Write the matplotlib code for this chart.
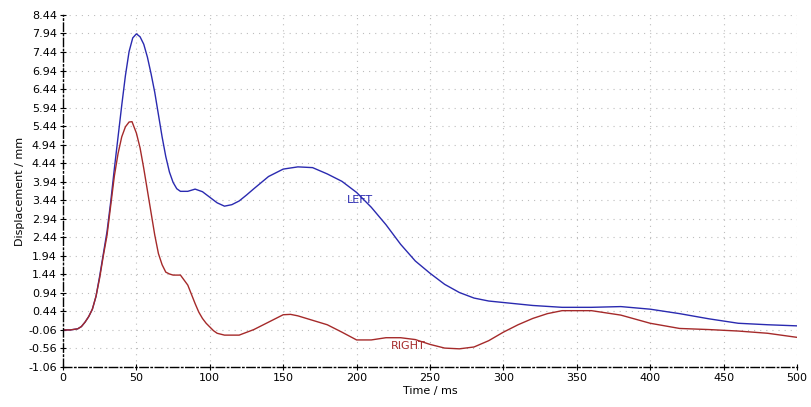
import numpy as np
import matplotlib
matplotlib.use("Agg")
import matplotlib.pyplot as plt

t_left = [0, 5, 10, 12.5, 15, 17.5, 20, 22.5, 25, 27.5, 30, 32.5, 35, 37.5, 40, 42.5, 45,
          47.5, 50, 52.5, 55, 57.5, 60, 62.5, 65, 67.5, 70, 72.5, 75, 77.5, 80, 85, 90, 95,
          100, 105, 110, 115, 120, 125, 130, 140, 150, 160, 170, 180, 190, 200, 210, 220,
          230, 240, 250, 260, 270, 280, 290, 300, 320, 340, 360, 380, 400, 420, 440, 460,
          480, 500]
d_left = [-0.06, -0.06, -0.03, 0.03, 0.15, 0.3, 0.5, 0.85, 1.4, 2.0, 2.6, 3.4, 4.3, 5.15,
          6.0, 6.8, 7.45, 7.82, 7.93, 7.85, 7.65, 7.3, 6.85, 6.35, 5.75, 5.15, 4.62, 4.2,
          3.92, 3.75, 3.68, 3.68, 3.74, 3.67, 3.52, 3.37, 3.28, 3.32, 3.42, 3.58, 3.75, 4.08,
          4.28, 4.34, 4.32, 4.15, 3.95, 3.65, 3.25, 2.78, 2.25, 1.8, 1.47, 1.17, 0.95, 0.8,
          0.72, 0.68, 0.6, 0.55, 0.55, 0.57, 0.5, 0.38, 0.24, 0.12, 0.08, 0.05]

t_right = [0, 5, 10, 12.5, 15, 17.5, 20, 22.5, 25, 27.5, 30, 32.5, 35, 37.5, 40, 42.5, 45,
           47, 50, 52.5, 55, 57.5, 60, 62.5, 65, 67.5, 70, 72.5, 75, 80, 85, 87.5, 90,
           92.5, 95, 97.5, 100, 102.5, 105, 110, 120, 130, 140, 150, 155, 160, 170, 180,
           190, 200, 210, 220, 230, 240, 250, 260, 270, 280, 290, 300, 310, 320, 330, 340,
           360, 380, 400, 420, 440, 460, 480, 500]
d_right = [-0.06, -0.06, -0.03, 0.03, 0.15, 0.3, 0.5, 0.85, 1.35, 1.95, 2.5, 3.3, 4.1, 4.7,
           5.15, 5.42, 5.55, 5.56, 5.25, 4.85, 4.3, 3.7, 3.1, 2.5, 2.0, 1.7, 1.5, 1.45, 1.42,
           1.42, 1.15, 0.9, 0.65, 0.42, 0.25, 0.12, 0.02, -0.08, -0.15, -0.2, -0.2, -0.05,
           0.15, 0.35, 0.36, 0.32, 0.2, 0.08, -0.12, -0.33, -0.33, -0.27, -0.27, -0.32,
           -0.45, -0.55, -0.57, -0.52, -0.35, -0.12, 0.08, 0.25, 0.38, 0.46, 0.46, 0.34,
           0.12, -0.02, -0.05, -0.09, -0.15, -0.26]

x_ticks = list(range(0, 501, 50))
y_ticks = [-1.06 + 0.5 * i for i in range(20)]

blue = "#2a2ab0"
red = "#a52a2a"

fig = plt.figure(figsize=(8.11, 4.07), dpi=100)
ax = fig.add_axes([0.0777, 0.0983, 0.905, 0.865])

ax.plot(t_left, d_left, color=blue, lw=1.0)
ax.plot(t_right, d_right, color=red, lw=1.0)

ax.text(202, 3.44, "LEFT", color=blue, fontsize=8, ha="center", va="center")
ax.text(235, -0.49, "RIGHT", color=red, fontsize=8, ha="center", va="center")

ax.set_xlim(0, 500)
ax.set_ylim(-1.06, 8.44)
ax.set_xticks(x_ticks)
ax.set_yticks(y_ticks)
ax.set_yticklabels([f"{v:.2f}" for v in y_ticks])
ax.tick_params(labelsize=8, direction="inout", length=5, width=0.8, pad=2)

ax.grid(True, color="#bdbdbd", linestyle=(0, (1, 4.5)), linewidth=0.8)
for s in ["top", "right"]:
    ax.spines[s].set_visible(False)
for s in ["left", "bottom"]:
    ax.spines[s].set_linestyle((0, (6, 2, 1, 2)))
    ax.spines[s].set_linewidth(1.0)

ax.set_xlabel("Time / ms", fontsize=8, labelpad=2)
ax.set_ylabel("Displacement / mm", fontsize=8, labelpad=2)

fig.savefig("out.png", dpi=100)
